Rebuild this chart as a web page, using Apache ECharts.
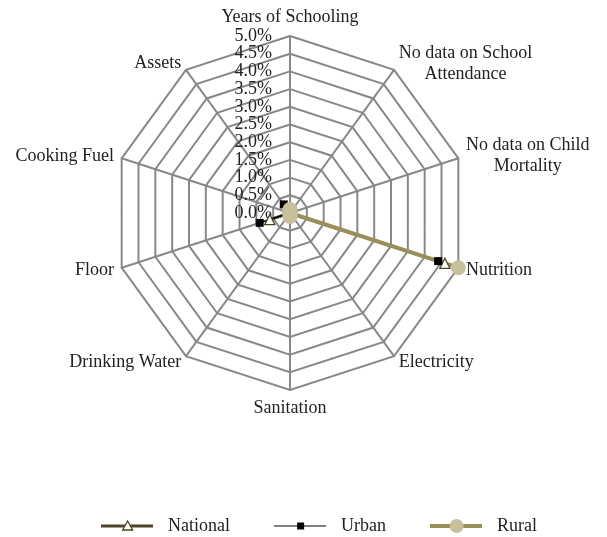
<!DOCTYPE html>
<html><head><meta charset="utf-8">
<script src="https://cdn.jsdelivr.net/npm/echarts@6/dist/echarts.min.js"></script>
<style>html,body{margin:0;padding:0;background:#fff}#c{width:607px;height:537px}</style>
</head><body><div id="c"></div>
<script>
// Indicators in clockwise order from the top
const categories = ['Years of Schooling', 'No data on School\nAttendance', 'No data on Child\nMortality', 'Nutrition', 'Electricity', 'Sanitation', 'Drinking Water', 'Floor', 'Cooking Fuel', 'Assets'];
const seriesNames = ['National', 'Urban', 'Rural'];
const national = [0, 0, 0, 4.6, 0, 0, 0, 0.6, 0, 0];
const urban    = [0, 0, 0, 4.4, 0, 0, 0, 0.9, 0, 0.3];
const rural    = [0.1, 0, 0, 5.0, 0, 0.1, 0, 0, 0, 0];
const tickMin = 0, tickMax = 5, tickStep = 0.5;

const FONT = 'Liberation Serif';
const cx = 290, cy = 213, R = 177;

// ECharts radar runs counter-clockwise: reorder so it reads clockwise like the reference
const order = [0].concat(categories.map((_, i) => i).slice(1).reverse());
const reorder = arr => order.map(i => arr[i]);

const colors = {
  National: { line: '#4d4626', mark: '#4d4626' },
  Urban: { line: '#000000', mark: '#000000' },
  Rural: { line: '#9a8f5a', mark: '#c8c09c' }
};

// legend icon paths in a 52x14 box (corner anchors keep the box size)
const anchors = 'M0,0 L0,0 M52,14 L52,14 ';
const lineIcon = {
  National: anchors + 'M0,5.5 L52,5.5 L52,8.5 L0,8.5 Z',
  Urban: anchors + 'M0,6.5 L52,6.5 L52,7.5 L0,7.5 Z',
  Rural: anchors + 'M0,5 L52,5 L52,9 L0,9 Z'
};
const markIcon = {
  National: anchors + 'M26,2 L31,11 L21,11 Z',
  Urban: anchors + 'M22.5,3.5 L29.5,3.5 L29.5,10.5 L22.5,10.5 Z',
  Rural: anchors + 'M19,7 A7,7 0 1,1 33,7 A7,7 0 1,1 19,7 Z'
};

const legendBase = {
  left: 96, top: 512, itemWidth: 52, itemHeight: 14, itemGap: 44,
  selectedMode: false, orient: 'horizontal'
};
const legendLines = Object.assign({}, legendBase, {
  textStyle: { fontFamily: FONT, fontSize: 18, color: '#222', padding: [0, 0, 0, 10] },
  data: seriesNames.map(n => ({ name: n, icon: 'path://' + lineIcon[n], itemStyle: { color: colors[n].line, borderWidth: 0 } }))
});
const legendMarks = Object.assign({}, legendBase, {
  textStyle: { fontFamily: FONT, fontSize: 18, color: 'rgba(0,0,0,0)', padding: [0, 0, 0, 10] },
  data: seriesNames.map(n => ({
    name: n, icon: 'path://' + markIcon[n],
    itemStyle: n === 'National'
      ? { color: '#ffffff', borderColor: colors[n].mark, borderWidth: 1.3 }
      : { color: colors[n].mark, borderWidth: 0 }
  }))
});

const values = { National: national, Urban: urban, Rural: rural };
const styles = {
  National: { symbol: 'triangle', symbolSize: 10, lineStyle: { color: colors.National.line, width: 3 }, itemStyle: { color: '#ffffff', borderColor: colors.National.mark, borderWidth: 1.3 } },
  Urban: { symbol: 'rect', symbolSize: 8, lineStyle: { color: '#000', width: 1 }, itemStyle: { color: '#000', borderWidth: 0 } },
  Rural: { symbol: 'circle', symbolSize: 15, lineStyle: { color: colors.Rural.line, width: 4 }, itemStyle: { color: colors.Rural.mark, borderWidth: 0 } }
};

// Radial tick labels: split into whole and half steps on two aligned polar systems
const labelStyle = { fontFamily: FONT, fontSize: 18, color: '#222', margin: 18, showMinLabel: true, showMaxLabel: true, formatter: v => v.toFixed(1) + '%' };
const hiddenParts = { axisLine: { show: false }, axisTick: { show: false }, splitLine: { show: false } };
const rPerUnit = R / (tickMax - tickMin);

const chart = echarts.init(document.getElementById('c'), null, { renderer: 'canvas' });
chart.setOption({
  animation: false,
  backgroundColor: '#ffffff',
  legend: [legendLines, legendMarks],
  radar: {
    center: [cx, cy], radius: R, startAngle: 90, shape: 'polygon', splitNumber: 10,
    indicator: reorder(categories).map(n => ({ name: n, min: tickMin, max: tickMax })),
    axisName: {
      color: '#222', fontFamily: FONT, fontSize: 18, lineHeight: 21,
      formatter: name => name.split('\n').map(s => '{c|' + s + '}').join('\n'),
      rich: { c: { align: 'center', color: '#222', fontFamily: FONT, fontSize: 18, lineHeight: 21 } }
    },
    nameGap: 8,
    splitArea: { show: false },
    splitLine: { lineStyle: { color: '#888888', width: 2 } },
    axisLine: { lineStyle: { color: '#888888', width: 2 } },
    axisTick: { show: false },
    axisLabel: { show: false }
  },
  polar: [
    { center: [cx, cy], radius: R },
    { center: [cx, cy], radius: [tickStep * rPerUnit, (tickMax - tickStep) * rPerUnit] }
  ],
  angleAxis: [
    { polarIndex: 0, show: false, startAngle: 90, min: 0, max: 360 },
    { polarIndex: 1, show: false, startAngle: 90, min: 0, max: 360 }
  ],
  radiusAxis: [
    Object.assign({ polarIndex: 0, min: tickMin, max: tickMax, interval: tickStep * 2, axisLabel: labelStyle }, hiddenParts),
    Object.assign({ polarIndex: 1, min: tickMin + tickStep, max: tickMax - tickStep, interval: tickStep * 2, axisLabel: labelStyle }, hiddenParts)
  ],
  series: [{
    type: 'radar',
    z: 3,
    emphasis: { disabled: true },
    data: seriesNames.map(n => Object.assign({ name: n, value: reorder(values[n]) }, styles[n]))
  }]
});
</script></body></html>
